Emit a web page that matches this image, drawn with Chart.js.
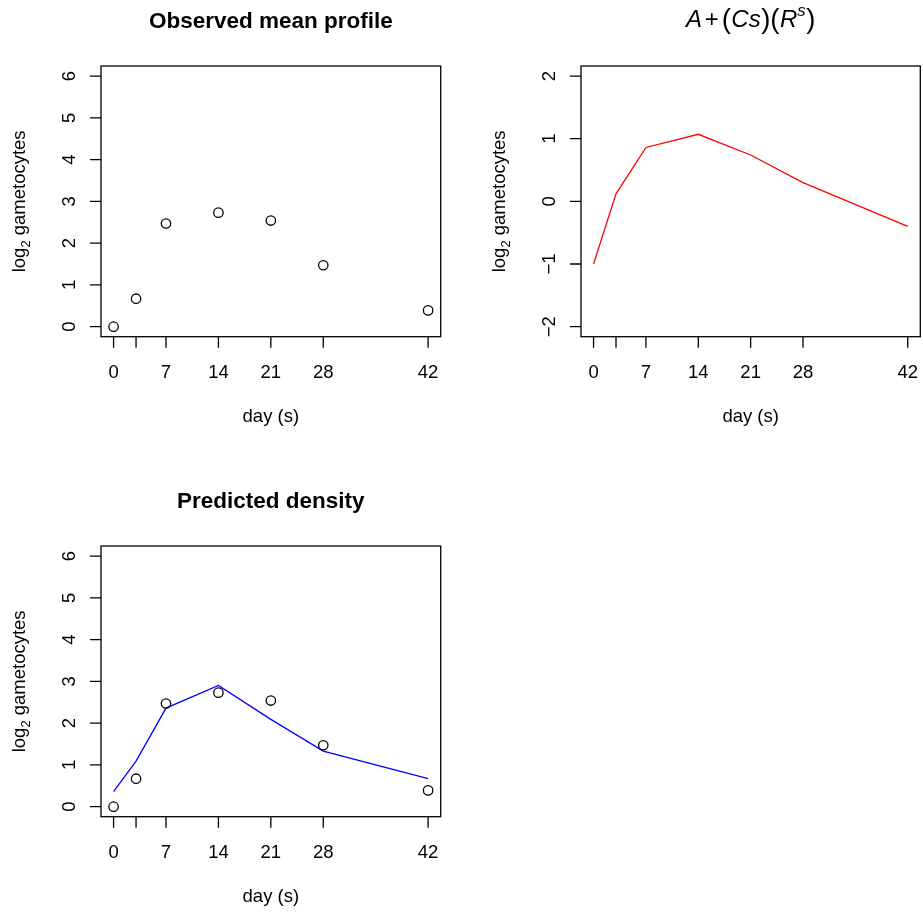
<!DOCTYPE html>
<html>
<head>
<meta charset="utf-8">
<script src="https://cdn.jsdelivr.net/npm/chart.js@4.4.1/dist/chart.umd.min.js"></script>
<style>
    body { margin: 0; background: #fff; width: 923px; height: 912px; overflow: hidden; position: relative; }
    canvas { position: absolute; }
</style>
</head>
<body>
<canvas id="observed" width="461" height="456" style="left:0;top:0"></canvas>
<canvas id="curve" width="443" height="456" style="left:480px;top:0"></canvas>
<canvas id="predicted" width="461" height="432" style="left:0;top:480px"></canvas>
<script>
// values
const days = [0, 3, 7, 14, 21, 28, 42];
const dayLabels = ["0", "", "7", "14", "21", "28", "42"];
const observedMean = [0, 0.67, 2.47, 2.73, 2.54, 1.47, 0.39];
const curveValues = [-1.0, 0.12, 0.86, 1.07, 0.74, 0.30, -0.40];
const predictedValues = [0.36, 1.09, 2.36, 2.90, 2.09, 1.33, 0.67];
const densityTicks = [0, 1, 2, 3, 4, 5, 6];
const curveTicks = [-2, -1, 0, 1, 2];

const FONT = "'Liberation Sans', Arial, Helvetica, sans-serif";
const BASE = 18.5;
const MAIN = 22.5;
const MATH = 24;
const TICK_LEN = 11;
const PLOT_H = 270.7;

Chart.defaults.devicePixelRatio = 1;

function points(ys) {
    return days.map((d, i) => ({x: d, y: ys[i]}));
}

function tickLabel(v) {
    return v < 0 ? "\u2212" + Math.abs(v) : String(v);
}

// draws text pieces: [text, italic, scale, shift, gapAfter]
function drawPieces(ctx, pieces, cx, baseY, size) {
    let total = 0;
    const widths = pieces.map(p => {
        ctx.font = (p[1] ? "italic " : "") + (size * p[2]) + "px " + FONT;
        const w = ctx.measureText(p[0]).width + (p[4] || 0) * size;
        total += w;
        return w;
    });
    let x = cx - total / 2;
    pieces.forEach((p, i) => {
        ctx.font = (p[1] ? "italic " : "") + (size * p[2]) + "px " + FONT;
        ctx.fillText(p[0], x, baseY + p[3] * size);
        x += widths[i];
    });
}

const rAxes = {
    id: "rAxes",
    afterDraw(chart, args, opts) {
        const ctx = chart.ctx;
        const area = chart.chartArea;
        const xs = chart.scales.x;
        const ys = chart.scales.y;
        ctx.save();
        ctx.fillStyle = "#000";
        ctx.strokeStyle = "#000";
        ctx.lineWidth = 1.3;

        // box
        ctx.strokeRect(area.left, area.top, area.right - area.left, area.bottom - area.top);

        // x axis
        ctx.beginPath();
        days.forEach(d => {
            const px = xs.getPixelForValue(d);
            ctx.moveTo(px, area.bottom);
            ctx.lineTo(px, area.bottom + TICK_LEN);
        });
        ctx.stroke();
        ctx.font = BASE + "px " + FONT;
        ctx.textAlign = "center";
        ctx.textBaseline = "alphabetic";
        days.forEach((d, i) => {
            ctx.fillText(dayLabels[i], xs.getPixelForValue(d), area.bottom + 41.6);
        });
        ctx.fillText("day (s)", (area.left + area.right) / 2, area.bottom + 85);

        // y axis
        ctx.beginPath();
        opts.yTicks.forEach(v => {
            const py = ys.getPixelForValue(v);
            ctx.moveTo(area.left - TICK_LEN, py);
            ctx.lineTo(area.left, py);
        });
        ctx.stroke();
        opts.yTicks.forEach(v => {
            ctx.save();
            ctx.translate(area.left - 26, ys.getPixelForValue(v));
            ctx.rotate(-Math.PI / 2);
            ctx.fillText(tickLabel(v), 0, 0);
            ctx.restore();
        });
        ctx.save();
        ctx.translate(area.left - 76.5, (area.top + area.bottom) / 2);
        ctx.rotate(-Math.PI / 2);
        ctx.textAlign = "left";
        drawPieces(ctx, [["log", false, 1, 0], ["2", false, 0.7, 0.3], [" gametocytes", false, 1, 0]], 0, 0, BASE);
        ctx.restore();

        // main title
        const cx = (area.left + area.right) / 2;
        ctx.textAlign = "left";
        if (opts.math) {
            drawPieces(ctx, [
                ["A", true, 1, 0, 0.12], ["+", false, 1, 0, 0.12], ["(", false, 1.15, 0.05, 0.02],
                ["Cs", true, 1, 0, 0.02], [")", false, 1.15, 0.05], ["(", false, 1.15, 0.05, 0.02], ["R", true, 1, 0],
                ["s", true, 0.7, -0.45, 0.02], [")", false, 1.15, 0.05]
            ], cx, area.top - 39.3, MATH);
        } else {
            ctx.textAlign = "center";
            ctx.font = "bold " + MAIN + "px " + FONT;
            ctx.fillText(opts.title, cx, area.top - 37.7);
        }
        ctx.restore();
    }
};

function makeChart(id, datasets, yMin, yMax, yTicks, rightPad, plugOpts) {
    const canvas = document.getElementById(id);
    return new Chart(canvas, {
        type: "scatter",
        data: {datasets: datasets},
        options: {
            responsive: false,
            animation: false,
            layout: {padding: {top: 66, right: rightPad, left: 0, bottom: 0}},
            plugins: {
                legend: {display: false},
                tooltip: {enabled: false},
                rAxes: Object.assign({yTicks: yTicks}, plugOpts)
            },
            scales: {
                x: {
                    type: "linear", min: -1.68, max: 43.68,
                    grid: {display: false}, border: {display: false},
                    ticks: {display: false},
                    afterFit: s => { s.height = canvas.height - 66 - PLOT_H; }
                },
                y: {
                    type: "linear", min: yMin, max: yMax,
                    grid: {display: false}, border: {display: false},
                    ticks: {display: false},
                    afterFit: s => { s.width = 101; }
                }
            }
        },
        plugins: [rAxes]
    });
}

const circleSet = {
    data: points(observedMean),
    showLine: false,
    pointStyle: "circle",
    pointRadius: 4.7,
    pointBorderWidth: 1.3,
    pointBorderColor: "#000",
    pointBackgroundColor: "rgba(0,0,0,0)"
};

function lineSet(ys, color) {
    return {
        data: points(ys),
        showLine: true,
        borderColor: color,
        borderWidth: 1.3,
        pointRadius: 0,
        tension: 0
    };
}

makeChart("observed", [circleSet], -0.24, 6.24, densityTicks, 20.3, {title: "Observed mean profile"});
makeChart("curve", [lineSet(curveValues, "#ff0000")], -2.16, 2.16, curveTicks, 2.7, {math: true});
makeChart("predicted", [Object.assign({}, circleSet, {data: points(observedMean)}), lineSet(predictedValues, "#0000ff")],
    -0.24, 6.24, densityTicks, 20.3, {title: "Predicted density"});
</script>
</body>
</html>
